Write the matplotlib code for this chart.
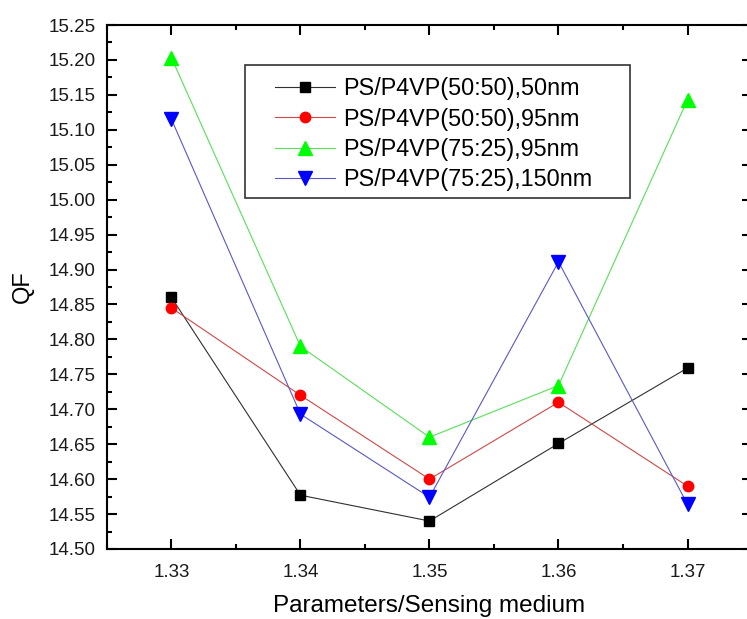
import matplotlib
matplotlib.use("Agg")
import matplotlib.pyplot as plt
from matplotlib.patches import Rectangle
from matplotlib.ticker import MultipleLocator, FormatStrFormatter

plt.rcParams["font.family"] = ["Liberation Sans", "DejaVu Sans"]

medium = [1.33, 1.34, 1.35, 1.36, 1.37]
qf_5050_50nm = [14.860, 14.577, 14.540, 14.651, 14.759]
qf_5050_95nm = [14.845, 14.720, 14.600, 14.710, 14.590]
qf_7525_95nm = [15.203, 14.790, 14.660, 14.734, 15.143]
qf_7525_150nm = [15.115, 14.693, 14.574, 14.911, 14.564]

labels = ["PS/P4VP(50:50),50nm", "PS/P4VP(50:50),95nm",
          "PS/P4VP(75:25),95nm", "PS/P4VP(75:25),150nm"]

fig = plt.figure(figsize=(7.47, 6.19), dpi=100)
ax = fig.add_axes([0.1432, 0.1131, 0.8635, 0.8465])

series = [
    (qf_5050_50nm, "#303030", "#000000", "s", 6.5),
    (qf_5050_95nm, "#d04848", "#ff0000", "o", 7.5),
    (qf_7525_95nm, "#58e058", "#00ff00", "^", 9.5),
    (qf_7525_150nm, "#5858c8", "#0000ff", "v", 9.5),
]
for (vals, lc, mc, mk, ms), lab in zip(series, labels):
    ax.plot(medium, vals, color=lc, linewidth=0.8, marker=mk, markersize=ms,
            markerfacecolor=mc, markeredgecolor=mc, label=lab)

ax.set_xlim(1.325, 1.375)
ax.set_ylim(14.50, 15.25)
ax.xaxis.set_major_locator(MultipleLocator(0.01))
ax.xaxis.set_minor_locator(MultipleLocator(0.005))
ax.yaxis.set_major_locator(MultipleLocator(0.05))
ax.yaxis.set_minor_locator(MultipleLocator(0.025))
ax.xaxis.set_major_formatter(FormatStrFormatter("%.2f"))
ax.yaxis.set_major_formatter(FormatStrFormatter("%.2f"))
ax.tick_params(which="both", direction="in", top=True, right=True,
               width=1.5, labelsize=13.5, colors="black",
               labelcolor="#1a1a1a")
ax.tick_params(which="major", length=7)
ax.tick_params(which="minor", length=3.5)
ax.tick_params(axis="x", pad=11)
ax.tick_params(axis="y", pad=8)
for sp in ax.spines.values():
    sp.set_linewidth(1.5)

ax.set_xlabel("Parameters/Sensing medium", fontsize=17.5, labelpad=10)
ax.set_ylabel("QF", fontsize=17, labelpad=11)

# legend entries without their own frame; the box is drawn separately
leg = ax.legend(loc="upper left", bbox_to_anchor=(0.2605, 0.900),
                fontsize=16.8, handlelength=2.57, handletextpad=0.34,
                borderpad=0, labelspacing=0.31, frameon=False,
                borderaxespad=0)
ax.add_patch(Rectangle((0.214, 0.670), 0.597, 0.254, transform=ax.transAxes,
                       facecolor="none", edgecolor="#333333", linewidth=1.2,
                       zorder=5))

fig.savefig("out.png", dpi=100)
